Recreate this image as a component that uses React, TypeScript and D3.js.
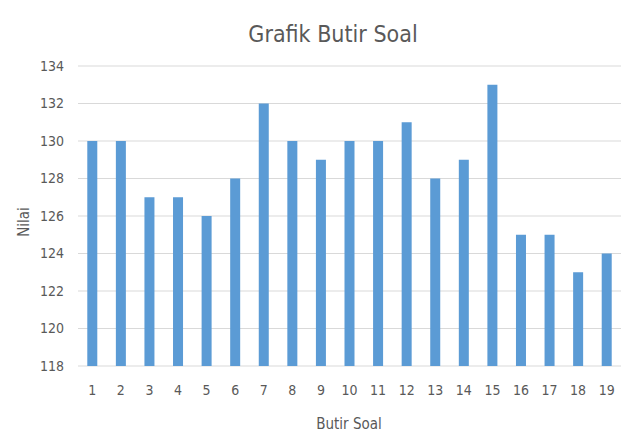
import React from "react";
import * as d3 from "d3";

const categories = ["1","2","3","4","5","6","7","8","9","10","11","12","13","14","15","16","17","18","19"];
const values = [130,130,127,127,126,128,132,130,129,130,130,131,128,129,133,125,125,123,124];
const yTicks = [118,120,122,124,126,128,130,132,134];
const title = "Grafik Butir Soal";
const xTitle = "Butir Soal";
const yTitle = "Nilai";

const W = 627, H = 434;
const m = { left: 78, right: 6, top: 66, bottom: 68 };
const font = "'Liberation Sans Narrow', 'DejaVu Sans Condensed', 'Open Sans', sans-serif";

export default function App() {
  const x = d3.scaleBand<string>().domain(categories).range([m.left, W - m.right]).paddingInner(0.65).paddingOuter(0.325);
  const y = d3.scaleLinear().domain([118, 134]).range([H - m.bottom, m.top]);
  return (
    <svg width={W} height={H} style={{ position: "absolute", left: 0, top: 0, background: "#fff" }}>
      <text x={333} y={42} textAnchor="middle" fontFamily={font} fontSize={23} fill="#595959">{title}</text>
      {yTicks.map(t => (
        <g key={t}>
          <line x1={m.left} x2={W - m.right} y1={y(t)} y2={y(t)} stroke="#d9d9d9" strokeWidth={1} />
          <text x={64} y={y(t)} dy="0.35em" textAnchor="end" fontFamily={font} fontSize={14} fill="#595959">{t}</text>
        </g>
      ))}
      {categories.map((c, i) => (
        <g key={c}>
          <rect x={x(c)} y={y(values[i])} width={x.bandwidth()} height={y(118) - y(values[i])} fill="#5b9bd5" />
          <text x={(x(c) as number) + x.bandwidth() / 2} y={395} textAnchor="middle" fontFamily={font} fontSize={14} fill="#595959">{c}</text>
        </g>
      ))}
      <text x={349} y={429} textAnchor="middle" fontFamily={font} fontSize={15} fill="#595959">{xTitle}</text>
      <text transform={`translate(29,${(y(118) + y(134)) / 2 + 6}) rotate(-90)`} textAnchor="middle" fontFamily={font} fontSize={15} fill="#595959">{yTitle}</text>
    </svg>
  );
}
